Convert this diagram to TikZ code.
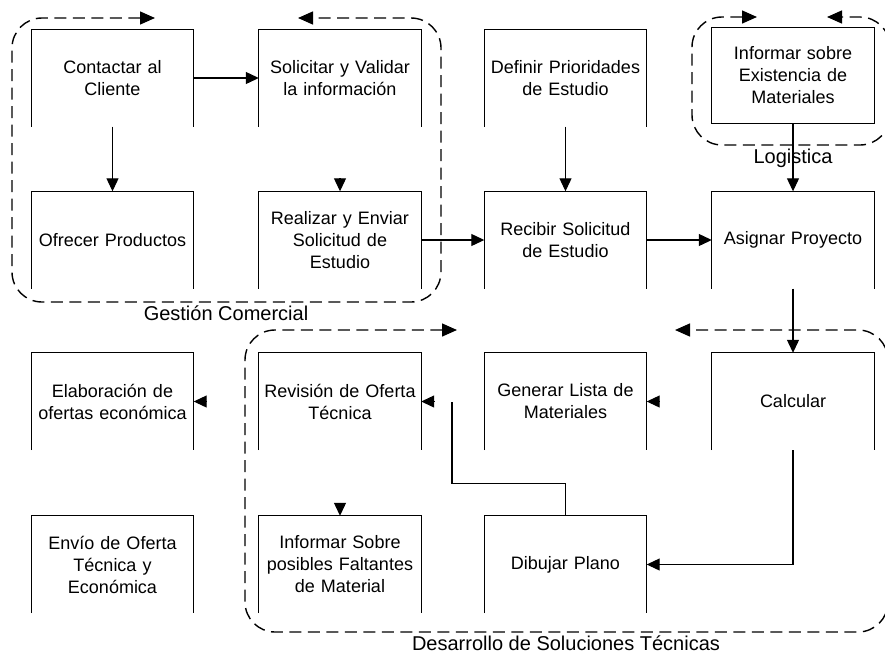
\documentclass[tikz,border=0pt]{standalone}
\usepackage{fontspec}
\setmainfont{Liberation Sans}
\usetikzlibrary{arrows.meta}

\tikzset{
  proc/.style={inner sep=0pt, minimum width=162pt, minimum height=97pt,
    text width=160pt, align=center, font=\fontsize{18}{22}\selectfont},
  conn/.style={line width=1.1pt, -{Triangle[length=13pt,width=12pt]}},
  tiponly/.style={line width=1.1pt, -{Triangle[length=13pt,width=12pt]}},
  wire/.style={line width=1.1pt},
  grp/.style={line width=1.4pt, dash pattern=on 12pt off 6.5pt, rounded corners=30pt,
    {Triangle[length=15pt,width=13pt]}-{Triangle[length=15pt,width=13pt]}},
  grplabel/.style={font=\fontsize{20}{24}\selectfont, inner sep=0pt}
}

\begin{document}
\begin{tikzpicture}[x=1pt, y=-1pt]
  \fill[white] (0,0) rectangle (885,654);
  \useasboundingbox (0,0) rectangle (885,654);

  % process steps
  \node[proc] (contactar)   at (112.5,78)    {Contactar al\\Cliente};
  \node[proc] (solicitar)   at (340,78)      {Solicitar y Validar\\la información};
  \node[proc] (definir)     at (565.5,78)    {Definir Prioridades\\de Estudio};
  \node[proc, minimum height=95pt] (existencia) at (793,75.5)
        {Informar sobre\\Existencia de\\Materiales};
  \node[proc] (ofrecer)     at (112.5,240)   {Ofrecer Productos};
  \node[proc] (realizar)    at (340,240)     {Realizar y Enviar\\Solicitud de\\Estudio};
  \node[proc] (recibir)     at (565.5,240)   {Recibir Solicitud\\de Estudio};
  \node[proc] (asignar)     at (793,240)     {Asignar Proyecto};
  \node[proc] (elaboracion) at (112.5,401.5) {Elaboración de\\ofertas económica};
  \node[proc] (revision)    at (340,401.5)   {Revisión de Oferta\\Técnica};
  \node[proc] (generar)     at (565.5,401.5) {Generar Lista de\\Materiales};
  \node[proc] (calcular)    at (793,401.5)   {Calcular};
  \node[proc] (envio)       at (112.5,564.5) {Envío de Oferta\\Técnica y\\Económica};
  \node[proc] (faltantes)   at (340,564.5)   {Informar Sobre\\posibles Faltantes\\de Material};
  \node[proc] (dibujar)     at (565.5,564.5) {Dibujar Plano};

  % step outlines: open at the bottom
  \foreach \n in {contactar,solicitar,definir,ofrecer,realizar,recibir,asignar,
                  elaboracion,revision,generar,calcular,envio,faltantes,dibujar}
    \draw[wire] (\n.south west) |- (\n.north east) -- (\n.south east);
  \draw[wire] (existencia.south west) rectangle (existencia.north east);

  % connectors
  \draw[conn] (contactar.east) -- (solicitar.west);
  \draw[conn] (contactar.south) -- (ofrecer.north);
  \draw[conn] (realizar.east) -- (recibir.west);
  \draw[conn] (definir.south) -- (recibir.north);
  \draw[conn] (recibir.east) -- (asignar.west);
  \draw[conn] (existencia.south) -- (asignar.north);
  \draw[conn] (asignar.south) -- (calcular.north);
  \draw[conn] (calcular.south) |- (dibujar.east);
  \coordinate (revtail) at (452,402);
  \draw[wire] (dibujar.north) -- ++(0,-32) -| (revtail);

  % loose arrowheads
  \draw[tiponly] ([yshift=13pt]realizar.north) -- (realizar.north);
  \draw[tiponly] ([yshift=13pt]faltantes.north) -- (faltantes.north);
  \draw[tiponly] ([xshift=13pt]elaboracion.east) -- (elaboracion.east);
  \draw[tiponly] ([xshift=13pt]revision.east) -- (revision.east);
  \draw[tiponly] ([xshift=13pt]generar.east) -- (generar.east);

  % groups
  \draw[grp] (155,18) -- (12,18) -- (12,302) -- (441,302) -- (441,18) -- (298,18);
  \draw[grp] (757,17) -- (692,17) -- (692,145) -- (890,145) -- (890,17) -- (827,17);
  \draw[grp] (457,330) -- (245,330) -- (245,632) -- (888,632) -- (888,330) -- (675,330);

  \node[grplabel] (lblgestion) at (226,313) {Gestión Comercial};
  \node[grplabel] (lbllog) at (793,158) {Logistica};
  \node[grplabel] (lbldes) at (566,643) {Desarrollo de Soluciones Técnicas};
\end{tikzpicture}
\end{document}
